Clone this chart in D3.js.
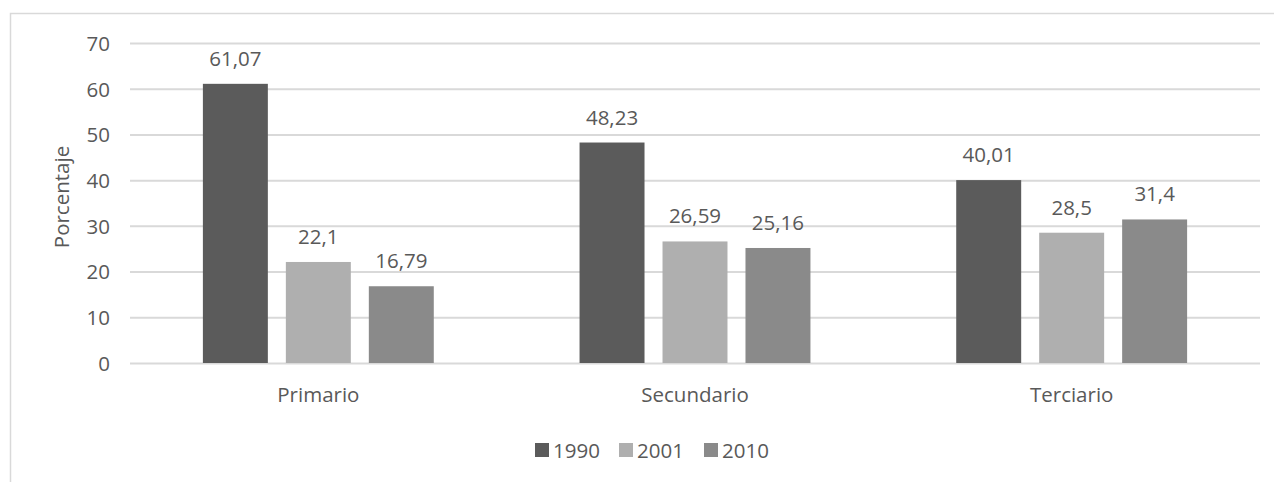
<!DOCTYPE html>
<html>
<head>
<meta charset="utf-8">
<script src="https://cdn.jsdelivr.net/npm/d3@7"></script>
<style>
  html, body { margin: 0; padding: 0; background: #fff; }
  svg { display: block; }
  text { font-family: "Open Sans", "Noto Sans", sans-serif; fill: #595959; }
</style>
</head>
<body>
<svg id="chart" width="1274" height="482"></svg>
<script>
// Sectors and census years
const categories = ["Primario", "Secundario", "Terciario"];
const years = ["1990", "2001", "2010"];
const values1990 = [61.07, 48.23, 40.01];
const values2001 = [22.1, 26.59, 28.5];
const values2010 = [16.79, 25.16, 31.4];
const yTicks = [0, 10, 20, 30, 40, 50, 60, 70];
const yTitle = "Porcentaje";

const seriesValues = [values1990, values2001, values2010];
const colors = ["#5b5b5b", "#afafaf", "#8a8a8a"];
const FS = 20.5;

const svg = d3.select("#chart");
const plot = { left: 130, right: 1260, top: 43, bottom: 363 };

// chart frame
svg.append("rect")
  .attr("x", 10.5).attr("y", 13.5)
  .attr("width", 1270).attr("height", 480)
  .attr("fill", "none").attr("stroke", "#d9d9d9").attr("stroke-width", 1.5);

const y = d3.scaleLinear().domain([0, 70]).range([plot.bottom, plot.top]);

const x0 = d3.scaleBand().domain(categories)
  .range([plot.left, plot.right])
  .paddingInner(0.387).paddingOuter(0.1935);

const x1 = d3.scaleBand().domain(years)
  .range([0, x0.bandwidth()])
  .paddingInner(0.217).paddingOuter(0);

// gridlines and tick labels
const yAxis = d3.axisLeft(y).tickValues(yTicks)
  .tickSize(-(plot.right - plot.left)).tickPadding(20).tickFormat(d3.format("d"));

const gy = svg.append("g").attr("transform", `translate(${plot.left},0)`).call(yAxis);
gy.select(".domain").remove();
gy.selectAll(".tick line").attr("stroke", "#d9d9d9").attr("stroke-width", 2);
gy.selectAll(".tick text")
  .attr("font-size", FS).attr("fill", "#595959")
  .attr("dy", "0.36em");

// category axis labels
const xAxis = d3.axisBottom(x0).tickSize(0).tickPadding(0);
const gx = svg.append("g").attr("transform", `translate(0,${plot.bottom})`).call(xAxis);
gx.select(".domain").remove();
gx.selectAll(".tick text")
  .attr("font-size", FS).attr("fill", "#595959")
  .attr("y", 39).attr("dy", 0);

// bars
const rows = categories.map((c, i) => ({
  category: c,
  items: years.map((yr, j) => ({ year: yr, value: seriesValues[j][i], color: colors[j] }))
}));

const groups = svg.append("g").selectAll("g")
  .data(rows).join("g")
  .attr("transform", d => `translate(${x0(d.category)},0)`);

groups.selectAll("rect")
  .data(d => d.items).join("rect")
  .attr("x", d => x1(d.year))
  .attr("width", x1.bandwidth())
  .attr("y", d => y(d.value))
  .attr("height", d => y(0) - y(d.value))
  .attr("fill", d => d.color);

groups.selectAll("text.val")
  .data(d => d.items).join("text")
  .attr("class", "val")
  .attr("x", d => x1(d.year) + x1.bandwidth() / 2)
  .attr("y", d => y(d.value) - 18)
  .attr("text-anchor", "middle")
  .attr("font-size", FS)
  .text(d => String(d.value).replace(".", ","));

// y-axis title
svg.append("text")
  .attr("transform", `translate(69,${(plot.top + plot.bottom) / 2 - 6}) rotate(-90)`)
  .attr("text-anchor", "middle")
  .attr("font-size", FS)
  .text(yTitle);

// legend
const legendX = [535, 619, 704];
const legend = svg.append("g").selectAll("g")
  .data(years).join("g")
  .attr("transform", (d, i) => `translate(${legendX[i]},0)`);
legend.append("rect")
  .attr("x", 0).attr("y", 443).attr("width", 14).attr("height", 14)
  .attr("fill", (d, i) => colors[i]);
legend.append("text")
  .attr("x", 18).attr("y", 458)
  .attr("font-size", FS)
  .text(d => d);
</script>
</body>
</html>
